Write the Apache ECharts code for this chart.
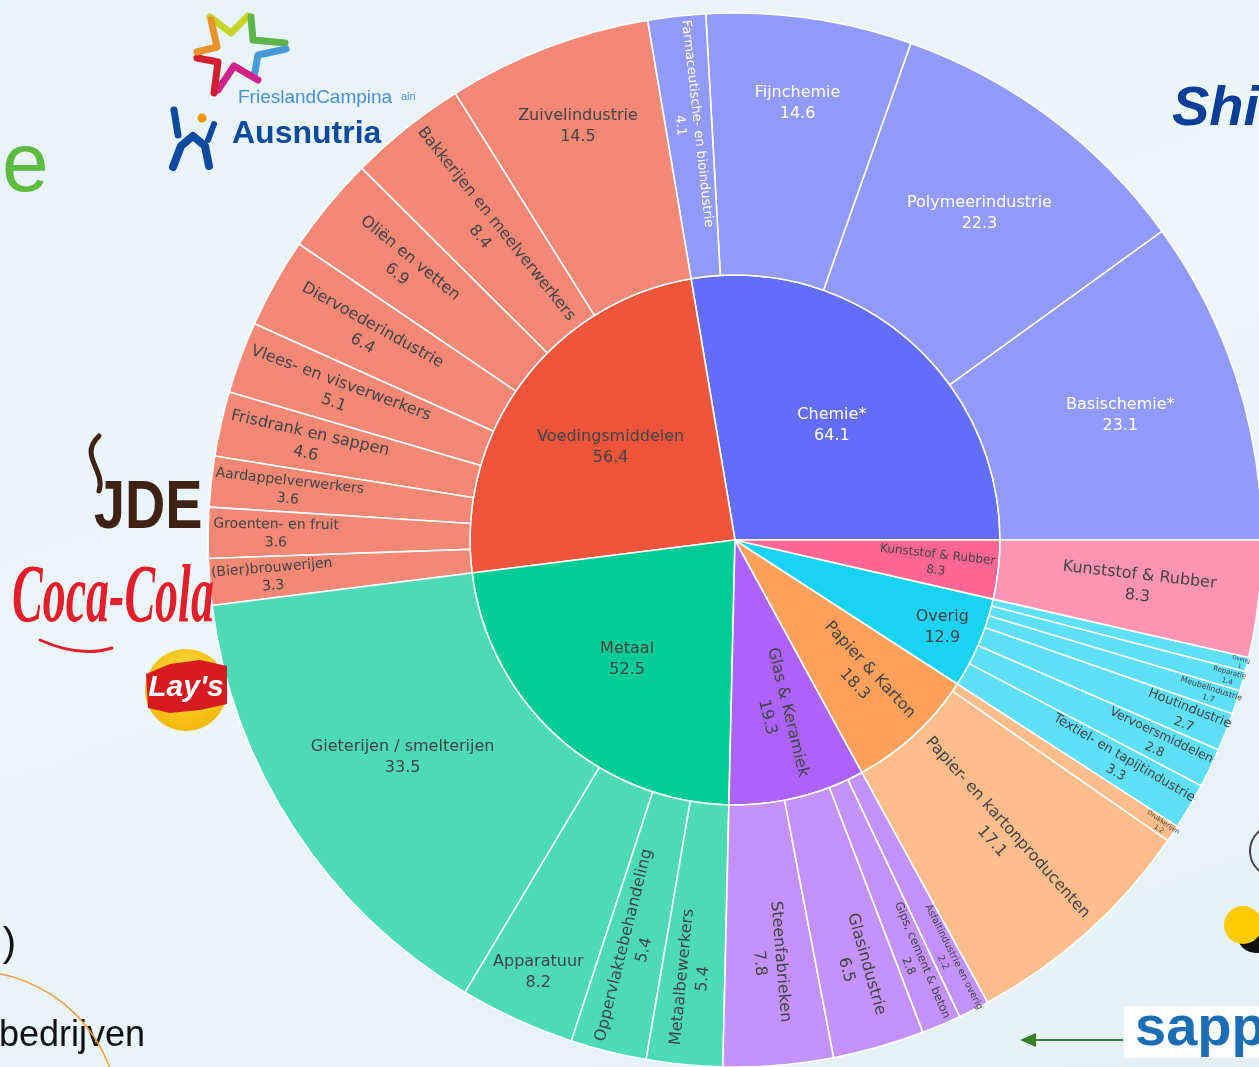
<!DOCTYPE html>
<html><head><meta charset="utf-8">
<script src="https://cdn.jsdelivr.net/npm/echarts@6/dist/echarts.min.js"></script>
<style>
html,body{margin:0;padding:0;width:1259px;height:1067px;overflow:hidden;
background:linear-gradient(160deg,#e6f3f8 0%,#edf7fa 45%,#e3f1f6 100%);}
#chart{width:1259px;height:1067px;}
</style>
</head><body><div id="chart"></div>
<script>
// ---------------- data ----------------
const groupNames = ['Chemie*','Voedingsmiddelen','Metaal','Glas & Keramiek','Papier & Karton','Overig','Kunststof & Rubber'];
const groupValues = [64.1,56.4,52.5,19.3,18.3,12.9,8.3];

const chemieNames = ['Basischemie*','Polymeerindustrie','Fijnchemie','Farmaceutische- en bioindustrie'];
const chemieValues = [23.1,22.3,14.6,4.1];
const voedingNames = ['Zuivelindustrie','Bakkerijen en meelverwerkers','Oliën en vetten','Diervoederindustrie','Vlees- en visverwerkers','Frisdrank en sappen','Aardappelverwerkers','Groenten- en fruit','(Bier)brouwerijen'];
const voedingValues = [14.5,8.4,6.9,6.4,5.1,4.6,3.6,3.6,3.3];
const metaalNames = ['Gieterijen / smelterijen','Apparatuur','Oppervlaktebehandeling','Metaalbewerkers'];
const metaalValues = [33.5,8.2,5.4,5.4];
const glasNames = ['Steenfabrieken','Glasindustrie','Gips, cement & beton','Asfaltindustrie en overig'];
const glasValues = [7.8,6.5,2.8,2.2];
const papierNames = ['Papier- en kartonproducenten','Drukkerijen'];
const papierValues = [17.1,1.2];
const overigNames = ['Textiel- en tapijtindustrie','Vervoersmiddelen','Houtindustrie','Meubelindustrie','Reparatie','Overig'];
const overigValues = [3.3,2.8,2.7,1.7,1.4,1];
const kunststofNames = ['Kunststof & Rubber'];
const kunststofValues = [8.3];

// ---------------- styles ----------------
const groupColors = ['#636EFA','#EF553B','#00CC96','#AB63FA','#FFA15A','#19D3F3','#FF6692'];
const DARK = '#444', WHITE = '#ffffff';
// [orientation, label radius, font size, color]
const innerLabelStyle = {
  'Chemie*': ['h',150,16,WHITE],
  'Voedingsmiddelen': ['h',155,16,DARK],
  'Metaal': ['h',161,16,DARK],
  'Glas & Keramiek': ['r',180,16,DARK],
  'Papier & Karton': ['r',187,16,DARK],
  'Overig': ['h',225,16,DARK],
  'Kunststof & Rubber': ['r',203,12,DARK]
};
const outerLabelStyle = {
  'Basischemie*': ['h',405,16,WHITE],
  'Polymeerindustrie': ['h',408,16,WHITE],
  'Fijnchemie': ['h',441,16,WHITE],
  'Farmaceutische- en bioindustrie': ['r',418,13,WHITE],
  'Zuivelindustrie': ['h',442,16,DARK],
  'Bakkerijen en meelverwerkers': ['r',396,16,DARK],
  'Oliën en vetten': ['r',430,16,DARK],
  'Diervoederindustrie': ['r',421,16,DARK],
  'Vlees- en visverwerkers': ['r',424,16,DARK],
  'Frisdrank en sappen': ['r',438,16,DARK],
  'Aardappelverwerkers': ['r',449,14,DARK],
  'Groenten- en fruit': ['r',459,14,DARK],
  '(Bier)brouwerijen': ['r',464,14,DARK],
  'Gieterijen / smelterijen': ['h',397,16,DARK],
  'Apparatuur': ['h',475,16,DARK],
  'Oppervlaktebehandeling': ['r',420,16,DARK],
  'Metaalbewerkers': ['r',440,16,DARK],
  'Steenfabrieken': ['r',424,16,DARK],
  'Glasindustrie': ['r',444,16,DARK],
  'Gips, cement & beton': ['r',460,11.5,DARK],
  'Asfaltindustrie en overig': ['r',471,9.5,DARK],
  'Papier- en kartonproducenten': ['r',396,16,DARK],
  'Drukkerijen': ['r',513,6.5,DARK],
  'Textiel- en tapijtindustrie': ['r',446,13,DARK],
  'Vervoersmiddelen': ['r',469,12.5,DARK],
  'Houtindustrie': ['r',485,13,DARK],
  'Meubelindustrie': ['r',499,8,DARK],
  'Reparatie': ['r',512,7,DARK],
  'Overig': ['r',520,5.5,DARK],
  'Kunststof & Rubber': ['r',406,16,DARK]
};

const CX = 735, CY = 540, R1 = 265, R2 = 527;
const FONT = '"DejaVu Sans", Verdana, sans-serif';

// leaf colour: parent colour at 70% over white
function lighten(hex, a) {
  const n = parseInt(hex.slice(1), 16);
  const c = [(n >> 16) & 255, (n >> 8) & 255, n & 255].map(v => Math.round(v * a + 255 * (1 - a)));
  return 'rgb(' + c.join(',') + ')';
}

function mkLabel(theta, ringMid, spec) {
  const [rot, r, size, color] = spec;
  const lh = Math.round(size * 1.3);
  const s = r - ringMid;
  const t = theta * Math.PI / 180;
  const o = {
    show: true, fontSize: size, lineHeight: lh, color: color, fontFamily: FONT,
    align: 'center',
    formatter: p => p.name + '\n' + p.value
  };
  if (rot === 'h') {
    const sx = s * Math.cos(t), sy = -s * Math.sin(t);
    o.rotate = 0;
    o.verticalAlign = 'top';
    o.padding = [sy - lh, Math.max(0, -2 * sx), 0, Math.max(0, 2 * sx)];
  } else {
    o.rotate = 'radial';
    o.verticalAlign = 'middle';
    const flipped = theta > 90 && theta < 270;
    const local = flipped ? -s : s;
    o.padding = [0, Math.max(0, -2 * local), 0, Math.max(0, 2 * local)];
  }
  return o;
}

const childSets = [
  [chemieNames, chemieValues], [voedingNames, voedingValues], [metaalNames, metaalValues],
  [glasNames, glasValues], [papierNames, papierValues], [overigNames, overigValues],
  [kunststofNames, kunststofValues]
];
const total = groupValues.reduce((a, b) => a + b, 0);
const degPer = 360 / total;
let acc = 0;
const treeData = groupNames.map((g, i) => {
  const a0 = acc, a1 = acc + groupValues[i] * degPer; acc = a1;
  let cacc = a0;
  const [cn, cv] = childSets[i];
  const leafColor = lighten(groupColors[i], 0.7);
  const children = cn.map((n, j) => {
    const c0 = cacc, c1 = cacc + cv[j] * degPer; cacc = c1;
    return {
      name: n, value: cv[j],
      itemStyle: { color: leafColor },
      label: mkLabel((c0 + c1) / 2, (R1 + R2) / 2, outerLabelStyle[n])
    };
  });
  return {
    name: g, value: groupValues[i],
    itemStyle: { color: groupColors[i] },
    label: mkLabel((a0 + a1) / 2, R1 / 2, innerLabelStyle[g]),
    children
  };
});

// ---------------- decorations (slide background) ----------------
const Z = 20;
const stroke = (c, w) => ({stroke:c, lineWidth:w, lineCap:'round', lineJoin:'round', fill:null});
const deco = [
  {type:'text', x:2, y:168, z:Z, style:{text:'e', font:'84px "Liberation Sans"', fill:'#5dbb3f', align:'left', verticalAlign:'middle'}},
  {type:'text', x:16, y:945, z:Z, style:{text:')', font:'40px "Liberation Sans"', fill:'#111', align:'right', verticalAlign:'middle'}},
  {type:'text', x:-1, y:1036, z:Z, style:{text:'bedrijven', font:'36px "Liberation Sans"', fill:'#111', align:'left', verticalAlign:'middle'}},
  {type:'circle', z:Z, shape:{cx:-29, cy:1119, r:148}, style:{fill:'none', stroke:'#f39c3a', lineWidth:1.5}},
  {type:'rect', z:Z, shape:{x:1124, y:1006, width:140, height:52}, style:{fill:'#fbfdfe'}},
  {type:'text', x:1135, y:1030, z:Z, style:{text:'sapp', font:'bold 56px "Liberation Sans"', fill:'#1b6db5', align:'left', verticalAlign:'middle'}},
  {type:'line', z:Z, shape:{x1:1123, y1:1040, x2:1032, y2:1040}, style:{stroke:'#3b7d23', lineWidth:2}},
  {type:'polygon', z:Z, shape:{points:[[1020,1040],[1036,1033],[1036,1047]]}, style:{fill:'#3b7d23'}},
  {type:'circle', z:Z, shape:{cx:1256, cy:934, r:19}, style:{fill:'#111'}},
  {type:'circle', z:Z, shape:{cx:1243, cy:925, r:19}, style:{fill:'#fccc00'}},
  {type:'circle', z:Z, shape:{cx:1276, cy:851, r:26}, style:{fill:'none', stroke:'#444', lineWidth:2}},
  {type:'text', x:1172, y:110, z:Z, style:{text:'Shi', font:'italic bold 56px "Liberation Sans"', fill:'#0b3d99', align:'left', verticalAlign:'middle'}},
  // FrieslandCampina star
  {type:'polyline', z:Z, shape:{points:[[210,17],[231,33],[248,16]]}, style:stroke('#c8d42a',7)},
  {type:'polyline', z:Z, shape:{points:[[251,17],[253,40],[285,43]]}, style:stroke('#5db44a',7)},
  {type:'polyline', z:Z, shape:{points:[[286,49],[258,55],[254,77]]}, style:stroke('#4a9ad8',7)},
  {type:'polyline', z:Z, shape:{points:[[218,90],[234,66],[258,80]]}, style:stroke('#d0228a',7)},
  {type:'polyline', z:Z, shape:{points:[[197,58],[218,62],[214,93]]}, style:stroke('#d32030',7)},
  {type:'polyline', z:Z, shape:{points:[[211,20],[217,47],[197,52]]}, style:stroke('#e8922a',7)},
  {type:'text', x:238, y:98, z:Z, style:{text:'FrieslandCampina', font:'19px "Liberation Sans"', fill:'#4a90d6', align:'left', verticalAlign:'middle'}},
  {type:'text', x:401, y:97, z:Z, style:{text:'ain', font:'11px "Liberation Sans"', fill:'#4a90d6', align:'left', verticalAlign:'middle'}},
  // Ausnutria
  {type:'polyline', z:Z, shape:{points:[[173,167],[181,146],[193,136],[205,146],[209,166]]}, style:stroke('#0b4a9e',8)},
  {type:'polyline', z:Z, shape:{points:[[174,110],[178,135]]}, style:stroke('#0b4a9e',7)},
  {type:'polyline', z:Z, shape:{points:[[214,124],[208,140]]}, style:stroke('#0b4a9e',6)},
  {type:'circle', z:Z, shape:{cx:202, cy:118, r:4.5}, style:{fill:'#f39200'}},
  {type:'text', x:232, y:134, z:Z, style:{text:'Ausnutria', font:'bold 32px "Liberation Sans"', fill:'#0b4a9e', align:'left', verticalAlign:'middle'}},
  // JDE
  {type:'bezierCurve', z:Z, shape:{x1:99, y1:436, cpx1:78, cpy1:456, cpx2:106, cpy2:470, x2:99, y2:491}, style:stroke('#3d2215',5)},
  {type:'text', x:94, y:509, z:Z, scaleX:0.82, style:{text:'JDE', font:'bold 68px "Liberation Sans"', fill:'#3d2215', align:'left', verticalAlign:'middle'}},
  // Coca-Cola
  {type:'text', x:12, y:600, z:Z, scaleY:1.8, style:{text:'Coca-Cola', font:'italic bold 46px "Liberation Serif"', fill:'#e41e2b', align:'left', verticalAlign:'middle'}},
  {type:'bezierCurve', z:Z, shape:{x1:40, y1:640, cpx1:80, cpy1:658, x2:112, y2:648}, style:stroke('#e41e2b',3)},
  // Lay's
  {type:'circle', z:Z, shape:{cx:186, cy:690, r:41}, style:{fill:{type:'radial', x:0.5, y:0.4, r:0.6, colorStops:[{offset:0,color:'#ffe34d'},{offset:1,color:'#f2b705'}]}}},
  {type:'polygon', z:Z, shape:{points:[[146,674],[170,664],[200,660],[227,666],[227,704],[200,710],[170,713],[148,708]]}, style:{fill:'#d71920'}},
  {type:'text', x:186, y:688, z:Z, style:{text:"Lay's", font:'italic bold 30px "Liberation Sans"', fill:'#ffffff', align:'center', verticalAlign:'middle'}}
];

const chart = echarts.init(document.getElementById('chart'), null, {renderer:'canvas'});
chart.setOption({
  animation: false,
  backgroundColor: 'transparent',
  graphic: deco,
  series: [{
    type: 'sunburst',
    center: [CX, CY],
    radius: [0, R2],
    startAngle: 0,
    clockwise: false,
    sort: null,
    nodeClick: false,
    emphasis: { focus: 'none' },
    itemStyle: { borderColor: '#ffffff', borderWidth: 1.6 },
    levels: [
      {},
      { r0: 0, r: R1 },
      { r0: R1, r: R2 }
    ],
    data: treeData
  }]
});
</script>
</body></html>
